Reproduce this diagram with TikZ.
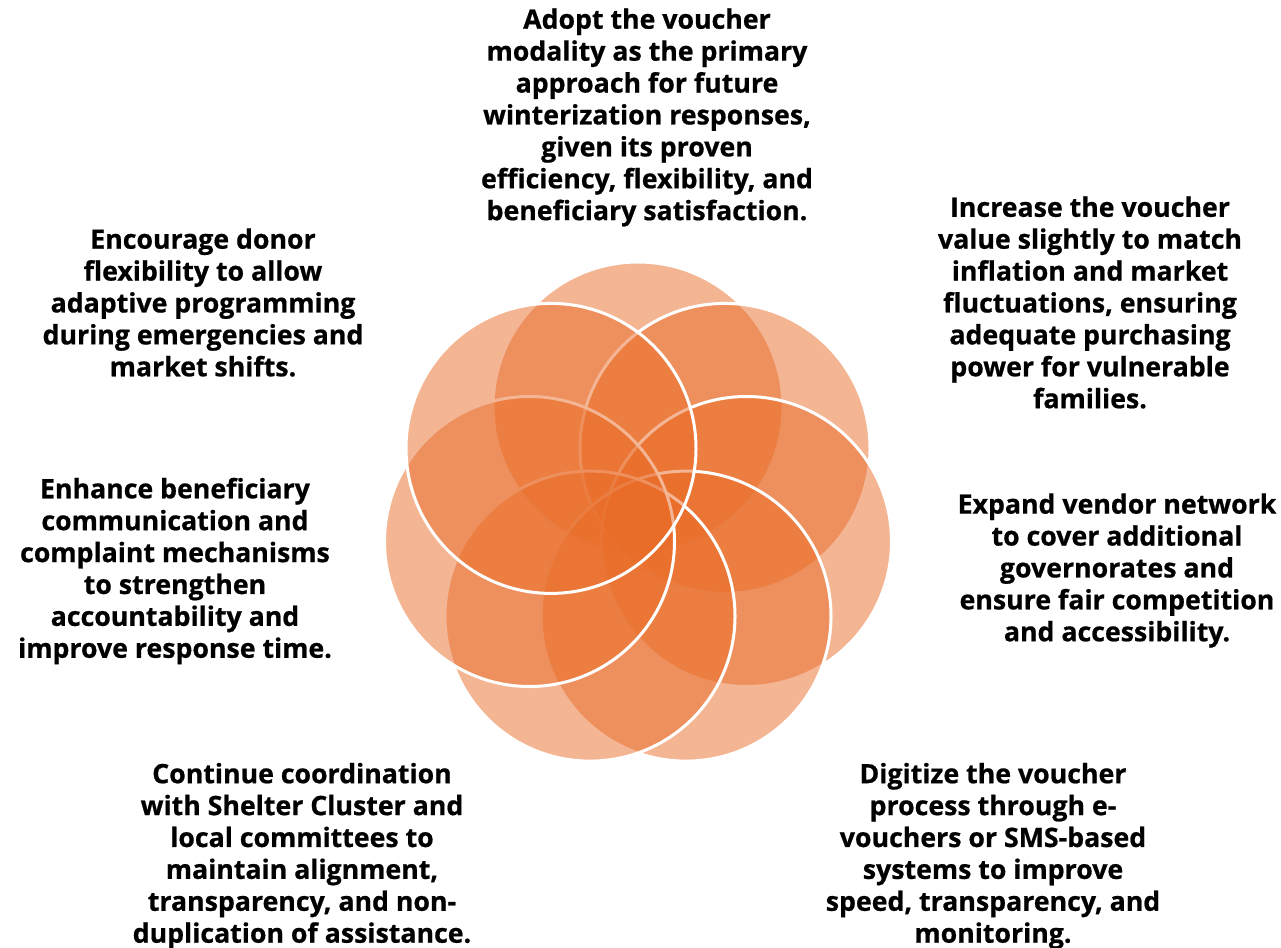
\documentclass[tikz,border=0pt]{standalone}
\usepackage{fontspec}
\setmainfont{Open Sans}[BoldFeatures={FakeBold=0.7}]
\usepackage{tikz}
\usepackage{xcolor}
\definecolor{petalcolore}{RGB}{233,108,40}
\colorlet{petalcolor}{petalcolore}
\colorlet{notecolor}{black}
\tikzstyle{petal} = [
    circle,
    fill=petalcolor,
    fill opacity=0.5,
    draw=white,
    draw opacity=1,
    line width=3pt,
    minimum size=290pt,
    inner sep=0pt
    ]
\tikzstyle{note} = [
    text=notecolor,
    font=\bfseries\fontsize{26.7}{31.9}\selectfont,
    align=center,
    inner sep=0pt
    ]

\begin{document}
\begin{tikzpicture}[x=1pt,y=-1pt]
\useasboundingbox (0,0) rectangle (1281,947);
% petals, clockwise from the top (later ones cover the white rims)
\node[petal] (petaltop) at (638,407) {};
\node[petal] (petalne) at (725,448.4) {};
\node[petal] (petale) at (746.5,541.5) {};
\node[petal] (petalse) at (686,616.1) {};
\node[petal] (petalsw) at (590,616.1) {};
\node[petal] (petalw) at (529.5,541.5) {};
\node[petal] (petalnw) at (551,448.4) {};

\node[note] (notetop) at (647,117.5) {Adopt the voucher\\
modality as the primary\\
approach for future\\
winterization responses,\\
given its proven\\
efficiency, flexibility, and\\
beneficiary satisfaction.};
\node[note] (notene) at (1090,302.5) {Increase the voucher\\
value slightly to match\\
inflation and market\\
fluctuations, ensuring\\
adequate purchasing\\
power for vulnerable\\
families.};
\node[note] (notee) at (1117,570.5) {Expand vendor network\\
to cover additional\\
governorates and\\
ensure fair competition\\
and accessibility.};
\node[note] (notese) at (993,856) {Digitize the voucher\\
process through e-\\
vouchers or SMS-based\\
systems to improve\\
speed, transparency, and\\
monitoring.};
\node[note] (notesw) at (302,856) {Continue coordination\\
with Shelter Cluster and\\
local committees to\\
maintain alignment,\\
transparency, and non-\\
duplication of assistance.};
\node[note] (notew) at (175,571) {Enhance beneficiary\\
communication and\\
complaint mechanisms\\
to strengthen\\
accountability and\\
improve response time.};
\node[note] (notenw) at (203,302.5) {Encourage donor\\
flexibility to allow\\
adaptive programming\\
during emergencies and\\
market shifts.};
\end{tikzpicture}
\end{document}
